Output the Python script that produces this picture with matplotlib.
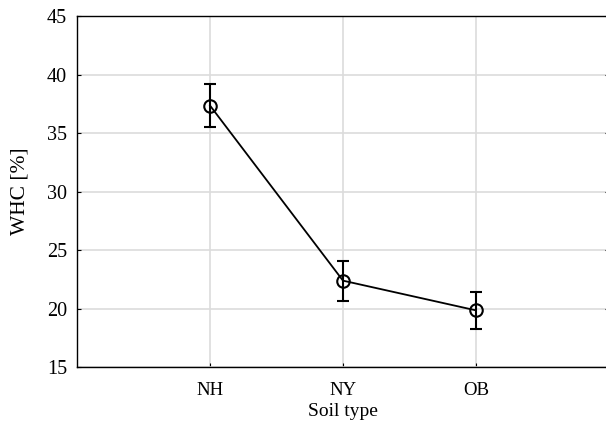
import matplotlib
matplotlib.use("Agg")
import matplotlib.pyplot as plt

categories = ["NH", "NY", "OB"]
whc_mean = [37.35, 22.38, 19.84]
whc_err = [1.81, 1.70, 1.61]
y_ticks = [15, 20, 25, 30, 35, 40, 45]

plt.rcParams['font.family'] = ['Liberation Serif', 'DejaVu Serif']

fig = plt.figure(figsize=(6.06, 4.41), dpi=100)
ax = fig.add_axes([0.127, 0.1678, 0.878, 0.7959])

x = list(range(1, len(categories) + 1))
ax.errorbar(x, whc_mean, yerr=whc_err, color='black', lw=1.3, marker='o',
            ms=9, mfc='none', mec='black', mew=1.5, capsize=4.5, capthick=1.5,
            elinewidth=1.5, zorder=3)

ax.set_xlim(0, 4)
ax.set_ylim(15, 45)
ax.set_xticks(x)
ax.set_xticklabels(categories)
ax.set_yticks(y_ticks)
ax.grid(True, color='#dcdcdc', lw=1.2)
ax.set_axisbelow(True)
ax.tick_params(direction='in', length=3, top=False, right=True)
ax.tick_params(axis='x', labelsize=13.5, pad=11)
ax.tick_params(axis='y', labelsize=14.5, pad=7)
for s in ax.spines.values():
    s.set_linewidth(1.0)
ax.set_xlabel("Soil type", fontsize=14, labelpad=3)
ax.set_ylabel("WHC [%]", fontsize=15.5, labelpad=13)

fig.savefig("out.png", dpi=100)
